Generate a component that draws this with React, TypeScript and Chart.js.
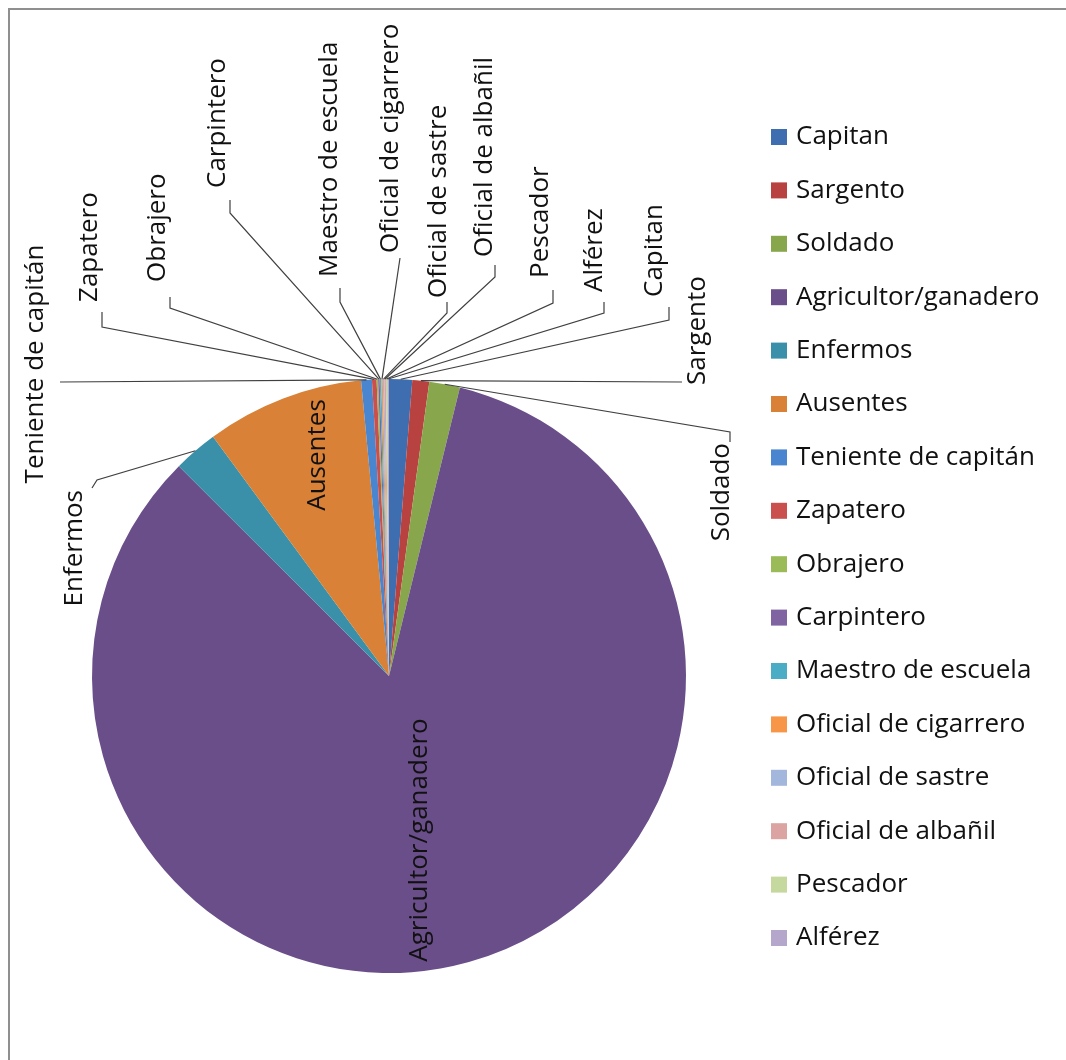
import React, { useEffect, useRef } from 'react';
import { Chart, registerables } from 'chart.js';

Chart.register(...registerables);

// ---- data ----
const categories = [
  'Capitan',
  'Sargento',
  'Soldado',
  'Agricultor/ganadero',
  'Enfermos',
  'Ausentes',
  'Teniente de capitán',
  'Zapatero',
  'Obrajero',
  'Carpintero',
  'Maestro de escuela',
  'Oficial de cigarrero',
  'Oficial de sastre',
  'Oficial de albañil',
  'Pescador',
  'Alférez',
];
const values = [15, 11, 20, 1003, 29, 103, 7, 3, 1, 1, 1, 1, 1, 1, 1, 1];

// ---- styles ----
const sliceColors = [
  '#3F6EB0',
  '#B8423F',
  '#88A74C',
  '#6A4E8A',
  '#3A90A8',
  '#D98136',
  '#4A86CF',
  '#C9504D',
  '#9BBB59',
  '#8064A2',
  '#4BACC6',
  '#F79646',
  '#A3B6DB',
  '#DBA4A2',
  '#C5D99F',
  '#B5A7CC',
];

const FONT = '26px "Open Sans"';
const TEXT_COLOR = '#111111';
const LINE_COLOR = '#404040';

// Label layout, expressed as px offsets from the pie centre for a pie of radius REF_R
// (scaled with the real radius at draw time).
const REF_R = 297;
type Lay = { inside?: boolean; pts?: number[][]; text: number[]; align: CanvasTextAlign };
const labelLayout: Lay[] = [
  { pts: [[280, -356], [280, -369]], text: [266, -379], align: 'left' }, // Capitan
  { pts: [[293, -294]], text: [309, -291], align: 'left' }, // Sargento
  { pts: [[341, -244], [341, -234]], text: [333, -233], align: 'right' }, // Soldado
  { inside: true, text: [31, 164], align: 'center' }, // Agricultor/ganadero
  { pts: [[-292, -196], [-297, -188]], text: [-314, -186], align: 'right' }, // Enfermos
  { inside: true, text: [-71, -221], align: 'center' }, // Ausentes
  { pts: [[-329, -294]], text: [-353, -312], align: 'center' }, // Teniente de capitán
  { pts: [[-287, -349], [-287, -364]], text: [-299, -374], align: 'left' }, // Zapatero
  { pts: [[-219, -368], [-219, -379]], text: [-231, -394], align: 'left' }, // Obrajero
  { pts: [[-159, -463], [-159, -476]], text: [-171, -488], align: 'left' }, // Carpintero
  { pts: [[-49, -374], [-49, -388]], text: [-59, -399], align: 'left' }, // Maestro de escuela
  { pts: [[11, -418]], text: [2, -423], align: 'left' }, // Oficial de cigarrero
  { pts: [[58, -363], [58, -374]], text: [50, -378], align: 'left' }, // Oficial de sastre
  { pts: [[106, -399], [106, -411]], text: [96, -419], align: 'left' }, // Oficial de albañil
  { pts: [[164, -373], [164, -386]], text: [152, -398], align: 'left' }, // Pescador
  { pts: [[215, -363], [215, -374]], text: [206, -384], align: 'left' }, // Alférez
];

function drawRotated(ctx: CanvasRenderingContext2D, text: string, x: number, y: number, align: CanvasTextAlign) {
  ctx.save();
  ctx.translate(x, y);
  ctx.rotate(-Math.PI / 2);
  ctx.textAlign = align;
  ctx.textBaseline = 'middle';
  ctx.fillText(text, 0, 0);
  ctx.restore();
}

const labelsPlugin = {
  id: 'excelLabels',
  afterDatasetsDraw(chart: any) {
    const ctx: CanvasRenderingContext2D = chart.ctx;
    const meta = chart.getDatasetMeta(0);
    ctx.save();
    ctx.font = FONT;
    ctx.fillStyle = TEXT_COLOR;
    ctx.strokeStyle = LINE_COLOR;
    ctx.lineWidth = 1.2;
    meta.data.forEach((arc: any, i: number) => {
      const { x, y, startAngle, endAngle, outerRadius } = arc.getProps(
        ['x', 'y', 'startAngle', 'endAngle', 'outerRadius'],
        true
      );
      const k = outerRadius / REF_R;
      const mid = (startAngle + endAngle) / 2;
      const lay = labelLayout[i];
      const text = String(chart.data.labels[i]);
      if (!lay.inside) {
        const px = x + Math.cos(mid) * outerRadius;
        const py = y + Math.sin(mid) * outerRadius;
        ctx.beginPath();
        ctx.moveTo(px, py);
        (lay.pts || []).forEach(([dx, dy]) => ctx.lineTo(x + dx * k, y + dy * k));
        ctx.stroke();
      }
      drawRotated(ctx, text, x + lay.text[0] * k, y + lay.text[1] * k, lay.align);
    });
    ctx.restore();
  },
};

const legendPlugin = {
  id: 'sideLegend',
  afterDraw(chart: any, _args: any, opts: any) {
    const ctx: CanvasRenderingContext2D = chart.ctx;
    const ds = chart.data.datasets[0];
    ctx.save();
    ctx.font = FONT;
    ctx.textBaseline = 'middle';
    ctx.textAlign = 'left';
    chart.data.labels.forEach((lab: string, i: number) => {
      const cy = opts.y0 + i * opts.step;
      ctx.fillStyle = ds.backgroundColor[i];
      ctx.fillRect(opts.x, cy - opts.box / 2, opts.box, opts.box);
      ctx.fillStyle = TEXT_COLOR;
      ctx.fillText(lab, opts.x + opts.box + opts.gap, cy);
    });
    ctx.restore();
  },
};

const W = 1056;
const H = 1050;

export default function App() {
  const ref = useRef<HTMLCanvasElement | null>(null);
  useEffect(() => {
    if (!ref.current) return;
    const chart = new Chart(ref.current, {
      type: 'pie',
      data: {
        labels: categories,
        datasets: [
          {
            data: values,
            backgroundColor: sliceColors,
            borderWidth: 0,
            hoverOffset: 0,
          },
        ],
      },
      options: {
        responsive: false,
        animation: false,
        events: [],
        layout: { padding: { left: 82, top: 369, right: W - 676, bottom: H - 963 } },
        plugins: {
          legend: { display: false },
          tooltip: { enabled: false },
          sideLegend: { x: 761, y0: 127, step: 53.4, box: 16, gap: 9 },
        } as any,
      },
      plugins: [labelsPlugin, legendPlugin],
    });
    return () => chart.destroy();
  }, []);
  return (
    <div
      style={{
        position: 'fixed',
        left: 8,
        top: 8,
        width: 1058,
        height: 1052,
        boxSizing: 'border-box',
        borderTop: '2px solid #8f8f8f',
        borderLeft: '2px solid #8f8f8f',
        background: '#fff',
        overflow: 'hidden',
      }}
    >
      <canvas ref={ref} width={W} height={H} style={{ display: 'block' }} />
    </div>
  );
}
